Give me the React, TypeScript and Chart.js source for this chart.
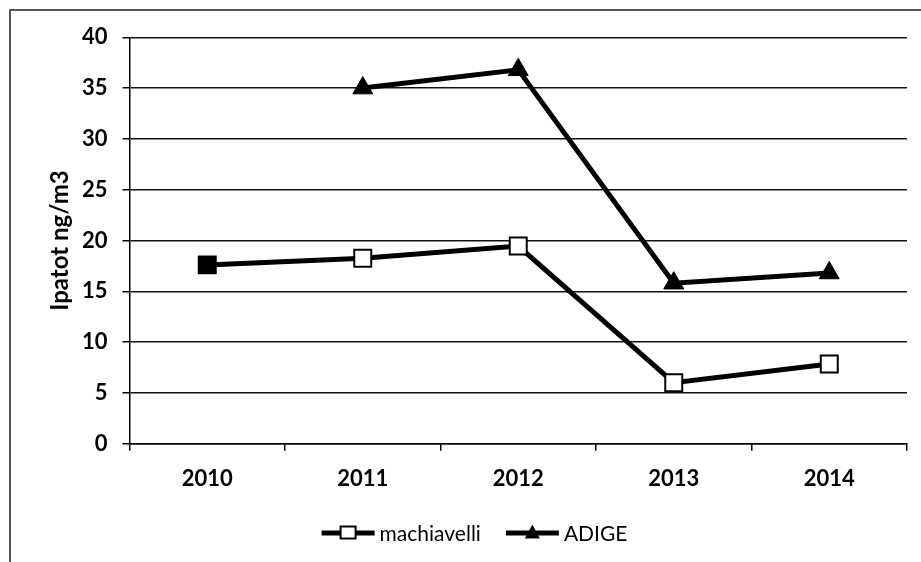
import React, { useEffect, useRef } from "react";
import { Chart, registerables } from "chart.js";

Chart.register(...registerables);

const categories = ["2010", "2011", "2012", "2013", "2014"];
const machiavelli = [17.6, 18.25, 19.45, 6.0, 7.85];
const adige = [null, 35.0, 36.8, 15.8, 16.8];
const yMin = 0;
const yMax = 40;
const yStep = 5;
const seriesNames = ["machiavelli", "ADIGE"];
const yTitle = "Ipatot ng/m3";

const FONT = "Lato, 'Open Sans', sans-serif";

const lineLegend = {
  id: "lineLegend",
  afterDraw(chart: any, _args: any, opts: any) {
    const ctx = chart.ctx;
    ctx.save();
    ctx.font = `${opts.fontSize}px ${FONT}`;
    ctx.textBaseline = "middle";
    ctx.fillStyle = "#000";
    const items = chart.data.datasets.map((ds: any) => ({
      label: ds.label,
      style: ds.pointStyle,
      w: opts.lineLen + opts.gap + ctx.measureText(ds.label).width,
    }));
    const total =
      items.reduce((s: number, it: any) => s + it.w, 0) + opts.itemGap * (items.length - 1);
    let x = opts.centerX - total / 2;
    const y = opts.y;
    for (const it of items) {
      ctx.strokeStyle = "#000";
      ctx.lineWidth = 5;
      ctx.beginPath();
      ctx.moveTo(x, y);
      ctx.lineTo(x + opts.lineLen, y);
      ctx.stroke();
      const cx = x + opts.lineLen / 2;
      const m = opts.marker;
      if (it.style === "rect") {
        ctx.fillStyle = "#fff";
        ctx.lineWidth = 2;
        ctx.fillRect(cx - m / 2, y - m / 2 + 1, m, m - 3);
        ctx.strokeRect(cx - m / 2, y - m / 2 + 1, m, m - 3);
      } else {
        ctx.fillStyle = "#000";
        ctx.beginPath();
        ctx.moveTo(cx, y - m / 2 - 1);
        ctx.lineTo(cx + m / 2, y + m / 2 - 2);
        ctx.lineTo(cx - m / 2, y + m / 2 - 2);
        ctx.closePath();
        ctx.fill();
      }
      ctx.fillStyle = "#000";
      ctx.textAlign = "left";
      ctx.fillText(it.label, x + opts.lineLen + opts.gap, y + 1);
      x += it.w + opts.itemGap;
    }
    ctx.restore();
  },
};

export default function App() {
  const ref = useRef<HTMLCanvasElement>(null);
  useEffect(() => {
    document.body.style.margin = "0";
    const chart = new Chart(ref.current!, {
      type: "line",
      data: {
        labels: categories,
        datasets: [
          {
            label: seriesNames[0],
            data: machiavelli,
            borderColor: "#000",
            borderWidth: 5,
            pointStyle: "rect",
            pointRadius: 12,
            pointBorderWidth: 2,
            pointBorderColor: "#000",
            pointBackgroundColor: machiavelli.map((_, i) => (i === 0 ? "#000" : "#fff")),
            tension: 0,
          },
          {
            label: seriesNames[1],
            data: adige,
            borderColor: "#000",
            borderWidth: 5,
            pointStyle: "triangle",
            pointRadius: 11.5,
            pointBorderWidth: 1,
            pointBorderColor: "#000",
            pointBackgroundColor: "#000",
            spanGaps: false,
            tension: 0,
          },
        ],
      },
      options: {
        animation: false,
        responsive: false,
        maintainAspectRatio: false,
        layout: { padding: { left: 0, right: 13.5, top: 37.3, bottom: 48 } },
        plugins: {
          legend: { display: false },
          tooltip: { enabled: false },
          lineLegend: {
            fontSize: 21,
            lineLen: 53,
            gap: 5,
            itemGap: 25,
            marker: 15,
            centerX: 474.5,
            y: 533,
          },
        } as any,
        scales: {
          x: {
            type: "category",
            offset: true,
            grid: {
              offset: true,
              drawOnChartArea: false,
              drawTicks: true,
              tickLength: 7,
              tickColor: "#000",
              lineWidth: 1.5,
            },
            border: { display: true, color: "#000", width: 1.5 },
            ticks: {
              color: "#000",
              padding: 15,
              font: { family: FONT, size: 22, weight: "bold" },
              maxRotation: 0,
            },
            afterFit: (s: any) => {
              s.height = 70.3;
            },
          },
          y: {
            min: yMin,
            max: yMax,
            ticks: {
              stepSize: yStep,
              color: "#000",
              padding: 15,
              font: { family: FONT, size: 22, weight: "bold" },
            },
            grid: {
              color: "#111",
              lineWidth: 1.5,
              tickLength: 7,
              tickColor: "#000",
            },
            border: { display: true, color: "#000", width: 1.5 },
            title: {
              display: true,
              text: yTitle,
              color: "#000",
              font: { family: FONT, size: 24, weight: "bold" },
              padding: { top: 46, bottom: 0 },
            },
            afterFit: (s: any) => {
              s.width = 129.5;
            },
          },
        },
      },
      plugins: [lineLegend],
    });
    return () => chart.destroy();
  }, []);
  return (
    <div style={{ position: "relative", width: 921, height: 562, background: "#fff", overflow: "hidden" }}>
      <canvas ref={ref} width={921} height={562} style={{ position: "absolute", left: 0, top: 0 }} />
      <div
        style={{
          position: "absolute",
          left: 9,
          top: 9,
          width: 1000,
          height: 1000,
          borderLeft: "2px solid #555",
          borderTop: "2px solid #555",
          pointerEvents: "none",
        }}
      />
    </div>
  );
}
